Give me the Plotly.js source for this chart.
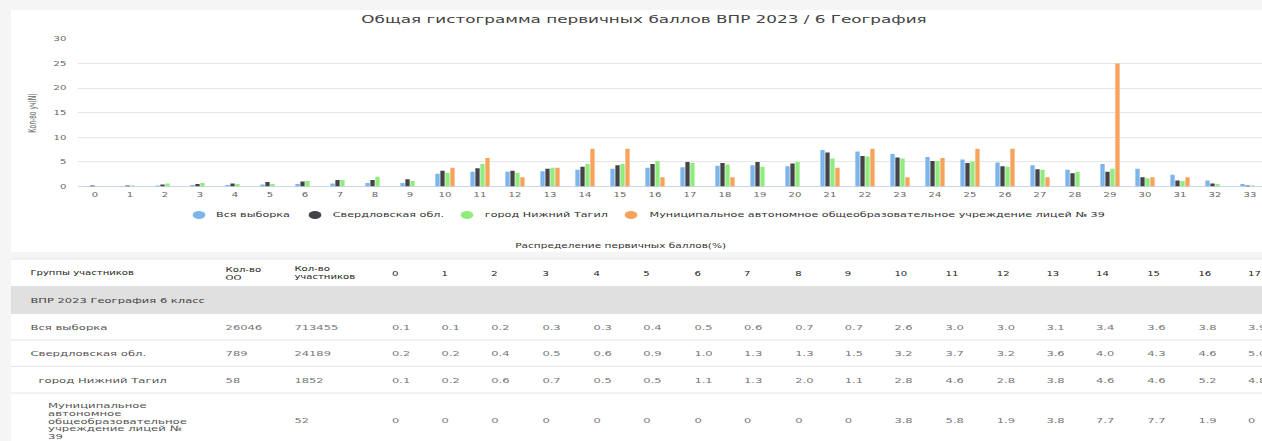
<!DOCTYPE html>
<html><head><meta charset="utf-8">
<script src="https://cdn.plot.ly/plotly-3.0.1.min.js"></script>
<style>
html,body{margin:0;padding:0;background:#f5f5f5;overflow:hidden;width:1262px;height:441px;}
#chart{width:789px;height:441px;transform:scaleX(1.6);transform-origin:0 0;}
</style></head><body><div id="chart"></div><script>
// ---- data ----
const scores = [0,1,2,3,4,5,6,7,8,9,10,11,12,13,14,15,16,17,18,19,20,21,22,23,24,25,26,27,28,29,30,31,32,33];
const seriesNames = ['Вся выборка','Свердловская обл.','город Нижний Тагил','Муниципальное автономное общеобразовательное учреждение лицей № 39'];
const allSample  = [0.1,0.1,0.2,0.3,0.3,0.4,0.5,0.6,0.7,0.7,2.6,3.0,3.0,3.1,3.4,3.6,3.8,3.9,4.2,4.3,4.1,7.4,7.1,6.6,6.0,5.5,4.9,4.3,3.4,4.6,3.6,2.4,1.2,0.5];
const sverdlovsk = [0.2,0.2,0.4,0.5,0.6,0.9,1.0,1.3,1.3,1.5,3.2,3.7,3.2,3.6,4.0,4.3,4.6,5.0,4.8,5.0,4.7,6.9,6.2,5.9,5.2,4.8,4.1,3.5,2.7,3.0,1.9,1.2,0.6,0.2];
const tagil      = [0.1,0.2,0.6,0.7,0.5,0.5,1.1,1.3,2.0,1.1,2.8,4.6,2.8,3.8,4.6,4.6,5.2,4.8,4.5,4.0,5.0,5.7,6.1,5.7,5.2,5.1,4.0,3.4,3.0,3.6,1.7,1.1,0.5,0.2];
const lyceum     = [0,0,0,0,0,0,0,0,0,0,3.8,5.8,1.9,3.8,7.7,7.7,1.9,0,1.9,0,0,3.8,7.7,1.9,5.8,7.7,7.7,1.9,0,25.0,1.9,1.9,0,0];
const yTicks = [0,5,10,15,20,25,30];
const ooCounts = [26046, 789, 58, null];
const participants = [713455, 24189, 1852, 52];
const chartTitle = 'Общая гистограмма первичных баллов ВПР 2023 / 6 География';
const yTitle = 'Кол-во уч(N)';
const tableCaption = 'Распределение первичных баллов(%)';
const tableGroup = 'ВПР 2023 География 6 класс';
const tableLabels = ['Вся выборка','Свердловская обл.','город Нижний Тагил','Муниципальное<br>автономное<br>общеобразовательное<br>учреждение лицей №<br>39'];
const headerLabels = ['Группы участников','Кол-во<br>ОО','Кол-во<br>участников'];

// ---- styles / layout helpers ----
const colors = ['#7cb5ec','#434348','#90ed7d','#f7a35c'];
const FONT = 'DejaVu Sans';
const SX = 1262.4, H = 441;
const px = x => x / SX;
const py = y => 1 - y / H;
const seriesValues = [allSample, sverdlovsk, tagil, lyceum];

const traces = seriesValues.map((v, i) => ({
  type: 'bar', x: scores, y: v, name: seriesNames[i],
  marker: {color: colors[i], line: {width: 0}}, showlegend: false, hoverinfo: 'skip'
}));

function ann(text, xr, yr, size, color, extra) {
  return Object.assign({
    text: text, x: px(xr), y: py(yr), xref: 'paper', yref: 'paper', showarrow: false,
    xanchor: 'left', yanchor: 'middle', align: 'left',
    font: {family: FONT, size: size, color: color}
  }, extra || {});
}

const annotations = [];
// y axis title
annotations.push(ann(yTitle, 33, 113, 6, '#666', {xanchor: 'center', textangle: -90}));
// legend
const legendDotX = [199, 315, 467, 631];
const legendTextX = [212, 329, 481, 647];
const legendY = 215;
seriesNames.forEach((n, i) => annotations.push(ann(n, legendTextX[i], legendY, 7, '#333')));
// caption
annotations.push(ann(tableCaption, 621, 246, 6.6, '#333', {xanchor: 'center'}));

// table
const colLabelX = 27, colOOX = 222.7, colPartX = 291.7;
const scoreColX = s => 388 + 50.4 * s;
const visibleScores = scores.filter(s => scoreColX(s) < 1262);
const headerY = 273;
annotations.push(ann(headerLabels[0], colLabelX, headerY, 6.3, '#222'));
annotations.push(ann(headerLabels[1], colOOX, headerY, 6.3, '#222'));
annotations.push(ann(headerLabels[2], colPartX, headerY, 6.3, '#222'));
visibleScores.forEach(s => annotations.push(ann(String(s), scoreColX(s), headerY, 6.3, '#222')));
annotations.push(ann(tableGroup, colLabelX, 300, 7.2, '#444'));

const rowY = [327, 353, 380, 420];
const labelX = [27, 27, 35, 45];
const lineStep = 7.9;
const fmt = v => v === 0 ? '0' : v.toFixed(1);
tableLabels.forEach((lab, r) => {
  const lines = lab.split('<br>');
  const y0 = rowY[r] - (lines.length - 1) * lineStep / 2 + (lines.length > 1 ? 1 : 0);
  lines.forEach((ln, k) => annotations.push(ann(ln, labelX[r], y0 + k * lineStep, 7.3, '#555')));
  if (ooCounts[r] !== null) annotations.push(ann(String(ooCounts[r]), colOOX, rowY[r], 7.2, '#777'));
  annotations.push(ann(String(participants[r]), colPartX, rowY[r], 7.2, '#777'));
  visibleScores.forEach(s => annotations.push(ann(fmt(seriesValues[r][s]), scoreColX(s), rowY[r], 7.2, '#777')));
});

const shapes = [
  {type: 'rect', xref: 'paper', yref: 'paper', x0: px(11), x1: 1, y0: py(252), y1: py(10), fillcolor: '#ffffff', line: {width: 0}, layer: 'below'},
  {type: 'rect', xref: 'paper', yref: 'paper', x0: px(11), x1: 1, y0: 0, y1: py(259), fillcolor: '#ffffff', line: {width: 0}, layer: 'below'},
  {type: 'rect', xref: 'paper', yref: 'paper', x0: px(11), x1: 1, y0: py(314), y1: py(286), fillcolor: '#e0e0e0', line: {width: 0}, layer: 'below'}
];
legendDotX.forEach((x, i) => shapes.push({type: 'circle', xref: 'paper', yref: 'paper',
  x0: (x / 1.6 - 4) / 789, x1: (x / 1.6 + 4) / 789, y0: py(legendY) - 4 / H, y1: py(legendY) + 4 / H,
  fillcolor: colors[i], line: {width: 0}}));
[259, 340, 366.5, 393].forEach(y => shapes.push({type: 'line', xref: 'paper', yref: 'paper',
  x0: px(11), x1: 1, y0: py(y), y1: py(y), line: {color: '#e6e6e6', width: 1}, layer: 'below'}));

const layout = {
  width: 789, height: 441, margin: {l: 0, r: 0, t: 0, b: 0},
  paper_bgcolor: '#f5f5f5', plot_bgcolor: 'rgba(0,0,0,0)',
  barmode: 'group', bargap: 0.43, bargroupgap: 0.14,
  font: {family: FONT, color: '#666'},
  title: {text: chartTitle, x: px(644), xanchor: 'center', y: py(19), yanchor: 'middle',
          font: {family: FONT, size: 10.5, color: '#444'}},
  xaxis: {domain: [px(77.5), 1], range: [-0.5, (SX - 77.5) / 35 - 0.5],
          tickmode: 'array', tickvals: scores, ticktext: scores.map(String),
          showgrid: false, zeroline: false, showline: false, ticks: '',
          tickfont: {family: FONT, size: 6.3, color: '#666'}, ticklabelstandoff: 3},
  yaxis: {domain: [py(186.5), py(39)], range: [0, 30], tickmode: 'array', tickvals: yTicks,
          gridcolor: '#e6e6e6', gridwidth: 1, zeroline: true, zerolinecolor: '#ccd6eb', zerolinewidth: 1,
          showline: false, ticks: '', tickfont: {family: FONT, size: 6.3, color: '#666'}, ticklabelstandoff: 6},
  shapes: shapes,
  annotations: annotations
};

Plotly.newPlot('chart', traces, layout, {staticPlot: true, displayModeBar: false});
</script></body></html>
